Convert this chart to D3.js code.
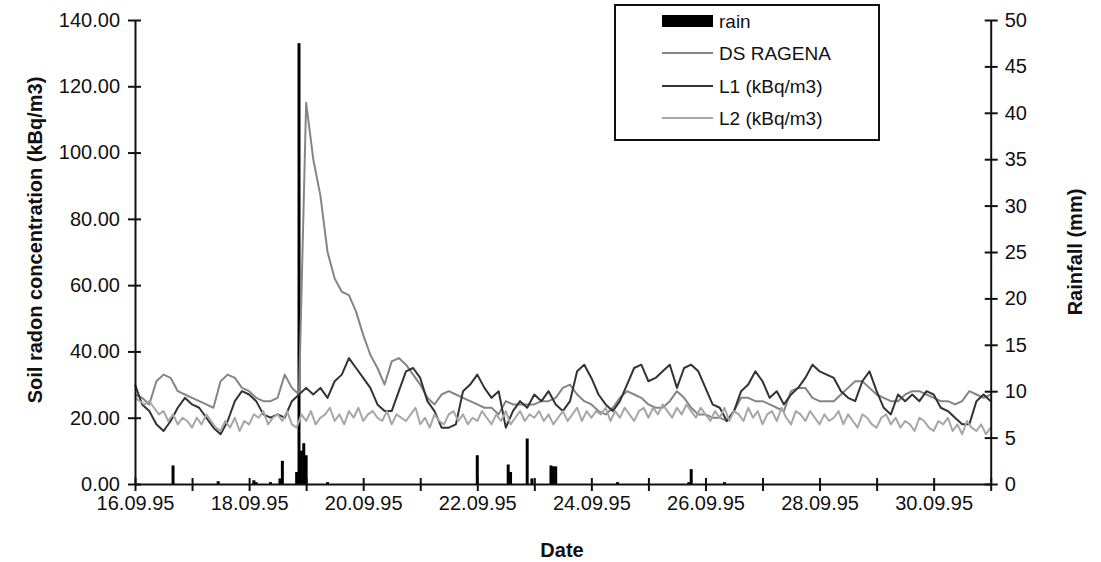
<!DOCTYPE html>
<html lang="en">
<head>
<title>Soil radon and rainfall</title>
<script src="https://d3js.org/d3.v7.min.js"></script>
<style>
  body { margin: 0; background: #fff; }
  text { font-family: Arial, "Liberation Sans", sans-serif; fill: #111; }
</style>
</head>
<body>
<div id="chart"></div>
<script type="text/javascript">

var w = 1101;
var h = 562;
var plotLeft = 135, plotRight = 990.7, plotTop = 20, plotBottom = 484;

// time axis: 16.09.95 00:00 to 01.10.95 00:00
var startDate = new Date(1995, 8, 16);
var endDate = new Date(1995, 9, 1);

// rainfall (mm), hour since start
var rainHours  = [16, 35, 50, 51, 57, 61, 62, 68, 69, 70, 71, 72, 81, 144, 157, 158, 165, 167, 175, 176, 177, 203, 233, 234, 248];
var rainValues = [2.0, 0.3, 0.4, 0.2, 0.2, 0.6, 2.5, 1.3, 47.5, 3.6, 4.4, 3.1, 0.2, 3.1, 2.1, 1.3, 4.9, 0.6, 2.0, 1.9, 1.9, 0.2, 0.2, 1.6, 0.2];

// DS RAGENA, one value every 3 hours (kBq/m3)
var dsStep = 3;
var dsValues = [
  27,26,24,31,33,32,28,27,
  26,25,24,23,31,33,32,29,
  28,26,25,25,26,33,29,27,
  115,98,87,70,62,58,57,52,
  45,39,35,30,37,38,36,33,
  30,26,24,27,28,27,26,25,
  24,23,23,21,25,24,24,24,
  24,25,25,26,29,30,27,25,
  24,22,21,23,26,28,27,26,
  24,23,23,25,28,26,23,21,
  21,20,20,19,22,26,26,25,
  25,24,23,22,28,29,29,26,
  25,25,25,27,29,31,31,29,
  27,26,25,25,27,28,28,27,
  26,25,25,24,25,28,27,26,
  27];

// L1, one value every 3 hours (kBq/m3)
var l1Step = 3;
var l1Values = [
  30,24,22,18,16,19,23,26,
  24,23,20,17,15,19,25,28,
  27,25,21,20,21,20,25,27,
  29,27,29,26,31,33,38,35,
  32,29,24,22,22,28,34,35,
  32,25,22,17,17,18,28,30,
  33,29,26,28,17,22,25,23,
  27,25,28,24,22,25,34,36,
  32,27,24,22,25,30,35,36,
  31,32,34,36,29,35,36,34,
  29,24,23,19,22,28,30,34,
  31,26,28,24,27,29,32,36,
  34,33,32,28,26,25,31,34,
  28,23,21,27,25,27,25,28,
  27,23,22,20,18,18,25,27,
  25];

// L2, one value every 2 hours (kBq/m3)
var l2Step = 2;
var l2Values = [
  26,25,24,25,23,21,22,19,21,18,20,19,
  17,20,18,21,19,17,16,19,17,20,16,19,
  18,21,20,22,18,20,21,19,22,18,17,21,
  19,22,18,20,21,23,19,21,18,22,20,23,
  19,21,22,20,19,22,18,21,20,19,21,23,
  18,20,17,21,19,18,21,22,19,21,18,20,
  19,22,20,18,21,19,22,18,20,22,19,21,
  20,22,19,21,18,20,22,19,21,23,19,22,
  20,22,21,23,19,22,20,23,21,19,22,23,
  20,23,21,24,22,20,23,21,24,22,20,23,
  21,19,22,20,23,19,22,21,19,23,20,22,
  18,21,22,19,23,20,18,22,21,19,22,20,
  18,21,19,20,22,18,21,19,17,21,20,18,
  17,20,21,18,20,17,19,18,16,20,19,17,
  16,19,18,20,16,18,15,19,17,16,18,15,
  17];

var leftTicks = [0, 20, 40, 60, 80, 100, 120, 140];
var rightTicks = [0, 5, 10, 15, 20, 25, 30, 35, 40, 45, 50];
var seriesNames = ["rain", "DS RAGENA", "L1 (kBq/m3)", "L2 (kBq/m3)"];
var seriesColors = ["#000000", "#858585", "#333333", "#a6a6a6"];

var xScale = d3.scaleTime().domain([startDate, endDate]).range([plotLeft, plotRight]);
var yScale = d3.scaleLinear().domain([0, 140]).range([plotBottom, plotTop]);
var rScale = d3.scaleLinear().domain([0, 50]).range([plotBottom, plotTop]);

function hourDate(hr) {
  return d3.timeHour.offset(startDate, hr);
}

function toPoints(values, step) {
  return values.map(function(v, i) { return {t: hourDate(i * step), v: v}; });
}

var svg = d3.select("#chart").append("svg")
  .attr("width", w)
  .attr("height", h);

// rain bars
var barW = xScale(hourDate(1)) - xScale(hourDate(0));
svg.append("g").selectAll("rect")
  .data(rainHours.map(function(hr, i) { return {t: hourDate(hr), v: rainValues[i]}; }))
  .enter().append("rect")
  .attr("x", function(d) { return xScale(d.t) - barW / 2 - 0.3; })
  .attr("y", function(d) { return rScale(d.v); })
  .attr("width", barW + 0.6)
  .attr("height", function(d) { return plotBottom - rScale(d.v); })
  .attr("fill", "#000");

var line = d3.line()
  .x(function(d) { return xScale(d.t); })
  .y(function(d) { return yScale(d.v); });

var lineData = [
  {pts: toPoints(dsValues, dsStep), color: seriesColors[1]},
  {pts: toPoints(l1Values, l1Step), color: seriesColors[2]},
  {pts: toPoints(l2Values, l2Step), color: seriesColors[3]}
];
lineData.forEach(function(s) {
  svg.append("path")
    .datum(s.pts)
    .attr("d", line)
    .attr("fill", "none")
    .attr("stroke", s.color)
    .attr("stroke-width", 2)
    .attr("stroke-linejoin", "round");
});

// axes
function styleAxis(g) {
  g.select(".domain").attr("stroke", "#111").attr("stroke-width", 2);
  g.selectAll(".tick line").attr("stroke", "#111").attr("stroke-width", 2);
  g.selectAll(".tick text").attr("font-size", 20).attr("fill", "#111")
    .attr("font-family", "Arial, 'Liberation Sans', sans-serif");
}

var xAxis = svg.append("g")
  .attr("transform", "translate(0," + plotBottom + ")")
  .call(d3.axisBottom(xScale)
    .ticks(d3.timeDay.every(1))
    .tickSizeOuter(0)
    .tickFormat(function(d, i) { return i % 2 === 0 ? d3.timeFormat("%d.%m.%y")(d) : ""; }));
styleAxis(xAxis);
xAxis.selectAll(".tick line").attr("y1", -6).attr("y2", 7);
xAxis.selectAll(".tick text").attr("y", 12);

var yAxis = svg.append("g")
  .attr("transform", "translate(" + plotLeft + ",0)")
  .call(d3.axisLeft(yScale).tickValues(leftTicks).tickSizeOuter(0).tickFormat(d3.format(".2f")));
styleAxis(yAxis);
yAxis.selectAll(".tick line").attr("x1", -7).attr("x2", 6);
yAxis.selectAll(".tick text").attr("x", -15);

var rAxis = svg.append("g")
  .attr("transform", "translate(" + plotRight + ",0)")
  .call(d3.axisRight(rScale).tickValues(rightTicks).tickSizeOuter(0));
styleAxis(rAxis);
rAxis.selectAll(".tick line").attr("x1", -6).attr("x2", 7);
rAxis.selectAll(".tick text").attr("x", 14);

// axis titles
svg.append("text")
  .attr("x", 562).attr("y", 557)
  .attr("text-anchor", "middle")
  .attr("font-size", 20).attr("font-weight", "bold")
  .text("Date");

svg.append("text")
  .attr("transform", "translate(42,240) rotate(-90)")
  .attr("text-anchor", "middle")
  .attr("font-size", 20).attr("font-weight", "bold")
  .text("Soil radon concentration (kBq/m3)");

svg.append("text")
  .attr("transform", "translate(1082,252) rotate(-90)")
  .attr("text-anchor", "middle")
  .attr("font-size", 20).attr("font-weight", "bold")
  .text("Rainfall (mm)");

// legend
var legend = svg.append("g");
legend.append("rect")
  .attr("x", 615).attr("y", 5)
  .attr("width", 264).attr("height", 135)
  .attr("fill", "#fff").attr("stroke", "#111").attr("stroke-width", 2);

var rowY = [21, 53, 86, 118];
seriesNames.forEach(function(name, i) {
  if (i === 0) {
    legend.append("rect")
      .attr("x", 662).attr("y", rowY[i] - 6)
      .attr("width", 51).attr("height", 12)
      .attr("fill", "#000");
  } else {
    legend.append("line")
      .attr("x1", 662).attr("x2", 713)
      .attr("y1", rowY[i]).attr("y2", rowY[i])
      .attr("stroke", seriesColors[i]).attr("stroke-width", 2);
  }
  legend.append("text")
    .attr("x", 719).attr("y", rowY[i])
    .attr("dy", "0.35em")
    .attr("font-size", 19)
    .text(name);
});

</script>
</body>
</html>
